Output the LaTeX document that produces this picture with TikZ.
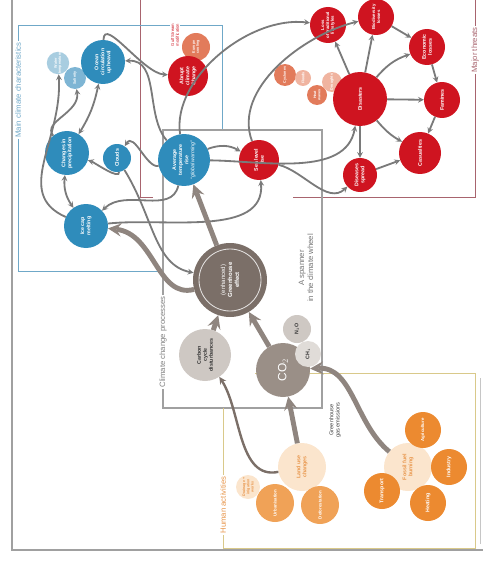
\documentclass[tikz,border=0pt]{standalone}
\usepackage{fontspec}
\setmainfont{Liberation Sans}
\usetikzlibrary{arrows,positioning,calc}

\definecolor{oceanblue}{HTML}{2F8CBB}
\definecolor{paleblue}{HTML}{A8CDE0}
\definecolor{midblue}{HTML}{7EB5D4}
\definecolor{boxblue}{HTML}{6FA8C8}
\definecolor{threatred}{HTML}{CF1420}
\definecolor{salmon}{HTML}{E27B5B}
\definecolor{palesalmon}{HTML}{F0B4A0}
\definecolor{boxred}{HTML}{A8646E}
\definecolor{taupe}{HTML}{7B6F68}
\definecolor{midtaupe}{HTML}{9A8F87}
\definecolor{lightgrey}{HTML}{CEC8C3}
\definecolor{palegrey}{HTML}{E0DCD8}
\definecolor{linegrey}{HTML}{7A7A7A}
\definecolor{boxgrey}{HTML}{A0A0A0}
\definecolor{orangedark}{HTML}{EC8A30}
\definecolor{orangemid}{HTML}{F0A257}
\definecolor{peach}{HTML}{FBE5CD}
\definecolor{boxtan}{HTML}{D9C98A}
\definecolor{labelorange}{HTML}{E8954A}

\newcommand{\bubfont}{\fontsize{7.5}{8.6}\selectfont\bfseries}
\newcommand{\smallbubfont}{\fontsize{6.2}{7}\selectfont\bfseries}
\newcommand{\tinybubfont}{\fontsize{5.2}{6}\selectfont\bfseries}
\newcommand{\boxfont}{\fontsize{11}{12.5}\selectfont}

\begin{document}
\begin{tikzpicture}[
    x=0.05cm, y=-0.05cm, >=stealth,
    bub/.style={circle, inner sep=0pt, minimum size=#1mm, rotate=90, align=center, font=\bubfont},
    blu/.style={bub=#1, fill=oceanblue, text=white},
    thr/.style={bub=#1, fill=threatred, text=white},
    hum/.style={bub=#1, fill=orangedark, text=white},
    pale/.style={bub=#1, fill=peach, text=labelorange},
    arrow/.style={->, draw=linegrey, line width=2.6pt},
    fat/.style={->, draw=taupe!85, line width=7pt},
    boxlabel/.style={rotate=90, fill=white, inner sep=2pt, font=\boxfont}
]
    \useasboundingbox (0,0) rectangle (483,564);

    % Frames
    \draw[boxgrey, line width=4pt] (12,0) -- (12,550) -- (483,550);
    \draw[boxgrey!60, line width=1pt] (480,378) -- (480,544);
    \draw[boxred, line width=1.3pt] (153,197) -- (140,197) -- (140,0);
    \draw[boxred, line width=1.3pt] (293,197) -- (475,197) -- (475,0);
    \draw[boxblue, line width=1.3pt] (163,271) -- (18,271) -- (18,25) -- (222,25) -- (222,130);
    \draw[boxgrey, line width=1.6pt] (163,130) rectangle (322,408);
    \draw[boxtan, line width=1.3pt] (255,373) -- (475,373) -- (475,548) -- (223,548) -- (223,408);

    % Main climate characteristics
    \node[bub=11, fill=paleblue, text=white, font=\tinybubfont] (watertemp) at (58,63) {Water\\temperature};
    \node[bub=11, fill=midblue, text=white, font=\tinybubfont] (salinity) at (75,78) {Salinity};
    \node[blu=22] (ocean) at (103,62) {Ocean\\circulation\\upheaval};
    \node[blu=22] (precip) at (67,153) {Changes in\\precipitation};
    \node[blu=14] (clouds) at (117,158) {Clouds};
    \node[blu=26] (avgtemp) at (184,160) {Average\\temperature\\rise\\{\mdseries\itshape ``global warming''}};
    \node[blu=22] (icecap) at (86,226) {Ice cap\\melting};

    % Major threats
    \node[bub=14, fill=salmon, text=white, font=\tinybubfont] (europe) at (196,47) {Europe\\cooling};
    \node[thr=20] (abrupt) at (188,76) {Abrupt\\climate\\Change};
    \node[thr=20] (sealevel) at (259,160) {Sea level\\rise};
    \node[bub=11, fill=salmon, text=white, font=\tinybubfont] (cyclones) at (285,75) {Cyclones};
    \node[bub=8, fill=palesalmon, text=white, font=\tinybubfont] (floods) at (303,78) {Floods};
    \node[bub=10, fill=salmon, text=white, font=\tinybubfont] (heat) at (317,95) {Heat\\waves};
    \node[bub=10, fill=palesalmon, text=white, font=\tinybubfont] (droughts) at (332,82) {Droughts};
    \node[thr=27] (disasters) at (360,99) {Disasters};
    \node[thr=18, font=\smallbubfont] (lifestyles) at (328,25) {Loss\\of traditional\\lifestyles};
    \node[thr=18, font=\smallbubfont] (biodiv) at (376,17) {Biodiversity\\losses};
    \node[thr=18] (econ) at (427,47) {Economic\\losses};
    \node[thr=18] (famines) at (442,100) {Famines};
    \node[thr=21] (casualties) at (420,153) {Casualties};
    \node[thr=17] (diseases) at (360,175) {Diseases\\spread};

    % Climate change processes
    \node[bub=37, fill=taupe, text=white, font=\fontsize{8.5}{10}\selectfont\bfseries] (greenhouse) at (230,280) {{\mdseries (enhanced)}\\Greenhouse\\effect};
    \draw[white!80!taupe, line width=1.2pt] (greenhouse.center) circle[radius=31];
    \node[bub=26, fill=lightgrey, text=black!80] (carbon) at (205,355) {Carbon\\cycle\\disturbances};
    \node[bub=27, fill=midtaupe, text=white, font=\fontsize{17}{19}\selectfont] (co2) at (283,370) {CO$_2$};
    \node[bub=14, fill=lightgrey, text=black!80] (n2o) at (297,329) {N$_2$O};
    \node[bub=13, fill=palegrey, text=black!80] (ch4) at (308,354) {CH$_4$};

    % Human activities
    \node[bub=12, fill=peach, text=labelorange, font=\tinybubfont] (wetlands) at (248,487) {Drainage +\\irrigation\\works};
    \node[pale=24] (landuse) at (302,467) {Land use\\changes};
    \node[bub=19, fill=orangemid, text=white, font=\smallbubfont] (urban) at (275,503) {Urbanisation};
    \node[bub=19, fill=orangemid, text=white, font=\smallbubfont] (defor) at (320,505) {Deforestation};
    \node[pale=24] (fossil) at (408,467) {Fossil fuel\\burning};
    \node[hum=18, font=\smallbubfont] (agri) at (423,430) {Agriculture};
    \node[hum=18] (industry) at (449,467) {Industry};
    \node[hum=18] (heating) at (428,503) {Heating};
    \node[hum=18] (transport) at (382,491) {Transport};

    % Labels
    \node[boxlabel, text=boxblue] (lblmain) at (18,90) {Main climate characteristics};
    \node[boxlabel, text=boxred] (lblthreat) at (475,50) {Major threats};
    \node[boxlabel, text=black!50] (lblproc) at (163,342) {Climate change processes};
    \node[boxlabel, text=labelorange] (lblhuman) at (223,505) {Human activities};
    \node[rotate=90, align=center, fill=white, inner sep=1pt, text=threatred, font=\fontsize{6}{7}\selectfont] (gulf) at (175,35) {Gulf Stream\\modification};
    \node[rotate=90, align=center, text=black!55, font=\boxfont] (spanner) at (306,268) {A spanner\\in the climate wheel};
    \node[rotate=90, align=center, text=black!75, font=\fontsize{8}{9}\selectfont] (ghg) at (335,420) {Greenhouse\\gas emissions};

    % Arrows
    \draw[arrow] (ocean) to[out=60, in=150] (abrupt);
    \draw[arrow] (avgtemp) to[out=105, in=-20] (ocean);
    \draw[arrow] (avgtemp) to[out=150, in=30] (clouds);
    \draw[arrow] (clouds) to[out=240, in=-70] (precip);
    \draw[arrow, <->] (precip) to[bend right=10] (ocean);
    \draw[arrow] (precip) to[out=95, in=260] (salinity);
    \draw[arrow] (icecap) to[out=140, in=-95, looseness=1.1] (watertemp);
    \draw[arrow, <->] (icecap) to[bend left=20] (precip);
    \draw[arrow] (avgtemp) to[out=230, in=20] (icecap);
    \draw[arrow] (icecap) to[out=-10, in=-100] (sealevel);
    \draw[arrow] (avgtemp) to[bend left=25] (sealevel);
    \draw[arrow] (clouds) to[out=-70, in=140] (greenhouse);
    \draw[arrow] (avgtemp) to[out=80, in=160] (lifestyles);
    \draw[arrow] (sealevel) to[out=95, in=180] (biodiv);
    \draw[arrow] (sealevel) to[out=-40, in=200] (diseases);
    \draw[arrow] (avgtemp) to[out=-20, in=240] (disasters);
    \draw[arrow] (disasters) -- (lifestyles);
    \draw[arrow] (disasters) -- (biodiv);
    \draw[arrow] (disasters) to[bend left=15] (econ);
    \draw[arrow] (disasters) -- (famines);
    \draw[arrow] (disasters) to[bend right=10] (casualties);
    \draw[arrow] (disasters) -- (diseases);
    \draw[arrow] (biodiv) -- (econ);
    \draw[arrow] (econ) -- (famines);
    \draw[arrow] (famines) -- (casualties);
    \draw[arrow] (diseases) -- (casualties);

    \draw[fat] (greenhouse) to[out=165, in=-25] (icecap);
    \draw[fat] (greenhouse) -- (avgtemp);
    \draw[fat] (carbon) -- (greenhouse);
    \draw[fat] (co2) -- (greenhouse);
    \draw[fat] (landuse) -- (co2);
    \draw[fat] (fossil) to[out=120, in=-20] (co2);
    \draw[->, draw=taupe, line width=3.4pt] (landuse) to[out=170, in=-80] (carbon);
\end{tikzpicture}
\end{document}
